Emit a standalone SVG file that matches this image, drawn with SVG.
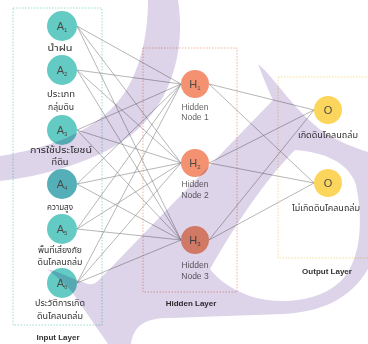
<svg xmlns="http://www.w3.org/2000/svg" width="368" height="344" viewBox="0 0 368 344">
<style>
.box{fill:none;stroke-width:0.8;stroke-dasharray:1.5 1.5}
.ln{stroke:#858585;stroke-width:0.6;fill:none}
.a{fill:#63cbc3}
.h{fill:#f39170}
.o{fill:#fcd65c}
.nt{font-family:"Liberation Sans",Arial,sans-serif;font-size:11px;fill:#4a4a4a;text-anchor:middle}
.th{font-family:"Noto Sans Thai","Noto Sans","DejaVu Sans",sans-serif;font-size:8px;fill:#333;text-anchor:middle}
.hn{font-family:"Liberation Sans",Arial,sans-serif;font-size:8.5px;fill:#666;text-anchor:middle}
.lay{font-family:"Liberation Sans",Arial,sans-serif;font-size:8px;font-weight:bold;fill:#333;text-anchor:middle}
.sub{font-size:6px}
</style>
<rect width="368" height="344" fill="#fff"/>
<g id="layers">
<rect class="box" x="13" y="8" width="89" height="317" stroke="#7fd3cc"/>
<rect class="box" x="143" y="48" width="94" height="244" stroke="#f0a08a"/>
<rect class="box" x="278" y="77" width="100" height="181" stroke="#f2d77a"/>
</g>
<g id="connectors">
<path class="ln" d="M77,26L181,84M77,26L181,163M77,26L181,240M77,70L181,84M77,70L181,163M77,70L181,240M77,130L181,84M77,130L181,163M77,130L181,240M77,184L181,84M77,184L181,163M77,184L181,240M77,229L181,84M77,229L181,163M77,229L181,240M77,283L181,84M77,283L181,163M77,283L181,240"/>
<path class="ln" d="M209,84L314,110M209,84L314,183M209,163L314,110M209,163L314,183M209,240L314,110M209,240L314,183"/>
</g>
<g id="A1"><circle class="a" cx="62" cy="26" r="15"/><text class="nt" x="62" y="30">A<tspan class="sub" dy="2">1</tspan></text><text class="th" x="60" y="51" textLength="25" lengthAdjust="spacingAndGlyphs">น้ำฝน</text></g>
<g id="A2"><circle class="a" cx="62" cy="70" r="15"/><text class="nt" x="62" y="74">A<tspan class="sub" dy="2">2</tspan></text><text class="th" x="61" y="97" textLength="28" lengthAdjust="spacingAndGlyphs">ประเภท</text><text class="th" x="61" y="110" textLength="26" lengthAdjust="spacingAndGlyphs">กลุ่มดิน</text></g>
<g id="A3"><circle class="a" cx="62" cy="130" r="15"/><text class="nt" x="62" y="134">A<tspan class="sub" dy="2">3</tspan></text><text class="th" x="61" y="152.5" textLength="62" lengthAdjust="spacingAndGlyphs">การใช้ประโยชน์</text><text class="th" x="60" y="164.5" textLength="17" lengthAdjust="spacingAndGlyphs">ที่ดิน</text></g>
<g id="A4"><circle cx="62" cy="184" r="15" fill="#55afb8"/><text class="nt" x="62" y="188">A<tspan class="sub" dy="2">4</tspan></text><text class="th" x="60" y="210" textLength="26" lengthAdjust="spacingAndGlyphs">ความสูง</text></g>
<g id="A5"><circle class="a" cx="62" cy="229" r="15"/><text class="nt" x="62" y="233">A<tspan class="sub" dy="2">5</tspan></text><text class="th" x="60" y="252.5" textLength="44" lengthAdjust="spacingAndGlyphs">พื้นที่เสี่ยงภัย</text><text class="th" x="60" y="265" textLength="45" lengthAdjust="spacingAndGlyphs">ดินโคลนถล่ม</text></g>
<g id="A6"><circle class="a" cx="62" cy="283" r="15"/><text class="nt" x="62" y="287">A<tspan class="sub" dy="2">6</tspan></text><text class="th" x="60" y="306" textLength="50" lengthAdjust="spacingAndGlyphs">ประวัติการเกิด</text><text class="th" x="60" y="318.5" textLength="46" lengthAdjust="spacingAndGlyphs">ดินโคลนถล่ม</text></g>
<g id="H1"><circle class="h" cx="195" cy="84" r="14"/><text class="nt" x="195" y="88">H<tspan class="sub" dy="2">1</tspan></text><text class="hn" x="195" y="110">Hidden</text><text class="hn" x="195" y="120">Node 1</text></g>
<g id="H2"><circle class="h" cx="195" cy="163" r="14"/><text class="nt" x="195" y="167">H<tspan class="sub" dy="2">2</tspan></text><text class="hn" x="195" y="187">Hidden</text><text class="hn" x="195" y="198">Node 2</text></g>
<g id="H3"><circle class="h" cx="195" cy="240" r="14"/><text class="nt" x="195" y="244">H<tspan class="sub" dy="2">3</tspan></text><text class="hn" x="195" y="268">Hidden</text><text class="hn" x="195" y="279">Node 3</text></g>
<g id="O1"><circle class="o" cx="328" cy="110" r="14"/><text class="nt" x="328" y="114">O</text><text class="th" x="328" y="138" textLength="60" lengthAdjust="spacingAndGlyphs">เกิดดินโคลนถล่ม</text></g>
<g id="O2"><circle class="o" cx="328" cy="183" r="14"/><text class="nt" x="328" y="187">O</text><text class="th" x="326" y="211" textLength="68" lengthAdjust="spacingAndGlyphs">ไม่เกิดดินโคลนถล่ม</text></g>
<g id="labels">
<text class="lay" x="58" y="340">Input Layer</text>
<text class="lay" x="191" y="306">Hidden Layer</text>
<text class="lay" x="327" y="274">Output Layer</text>
</g>
<g id="watermark" style="mix-blend-mode:multiply">
<path fill="#ddd4e9" d="M148,0L178,0C186,50 172,110 120,143C90,162 45,176 0,181L0,156C50,148 90,132 115,105C138,80 148,40 148,0Z"/>
<path fill="#ddd4e9" d="M258,64C275,78 295,112 325,133C340,142 355,148 368,152L368,269C350,300 320,312 283,314L170,318C145,318 134,325 131,344L108,344L72,292C62,280 53,274 47,269C60,272 75,280 88,284C93,285 96,283 99,280L273,100C268,90 262,74 258,64Z"/>
<path fill="#fff" d="M295,150C320,152 348,160 356,185C364,225 360,262 340,282C320,300 290,303 267,300C245,297 222,285 210,269C235,225 265,180 295,150Z"/>
</g>
</svg>
